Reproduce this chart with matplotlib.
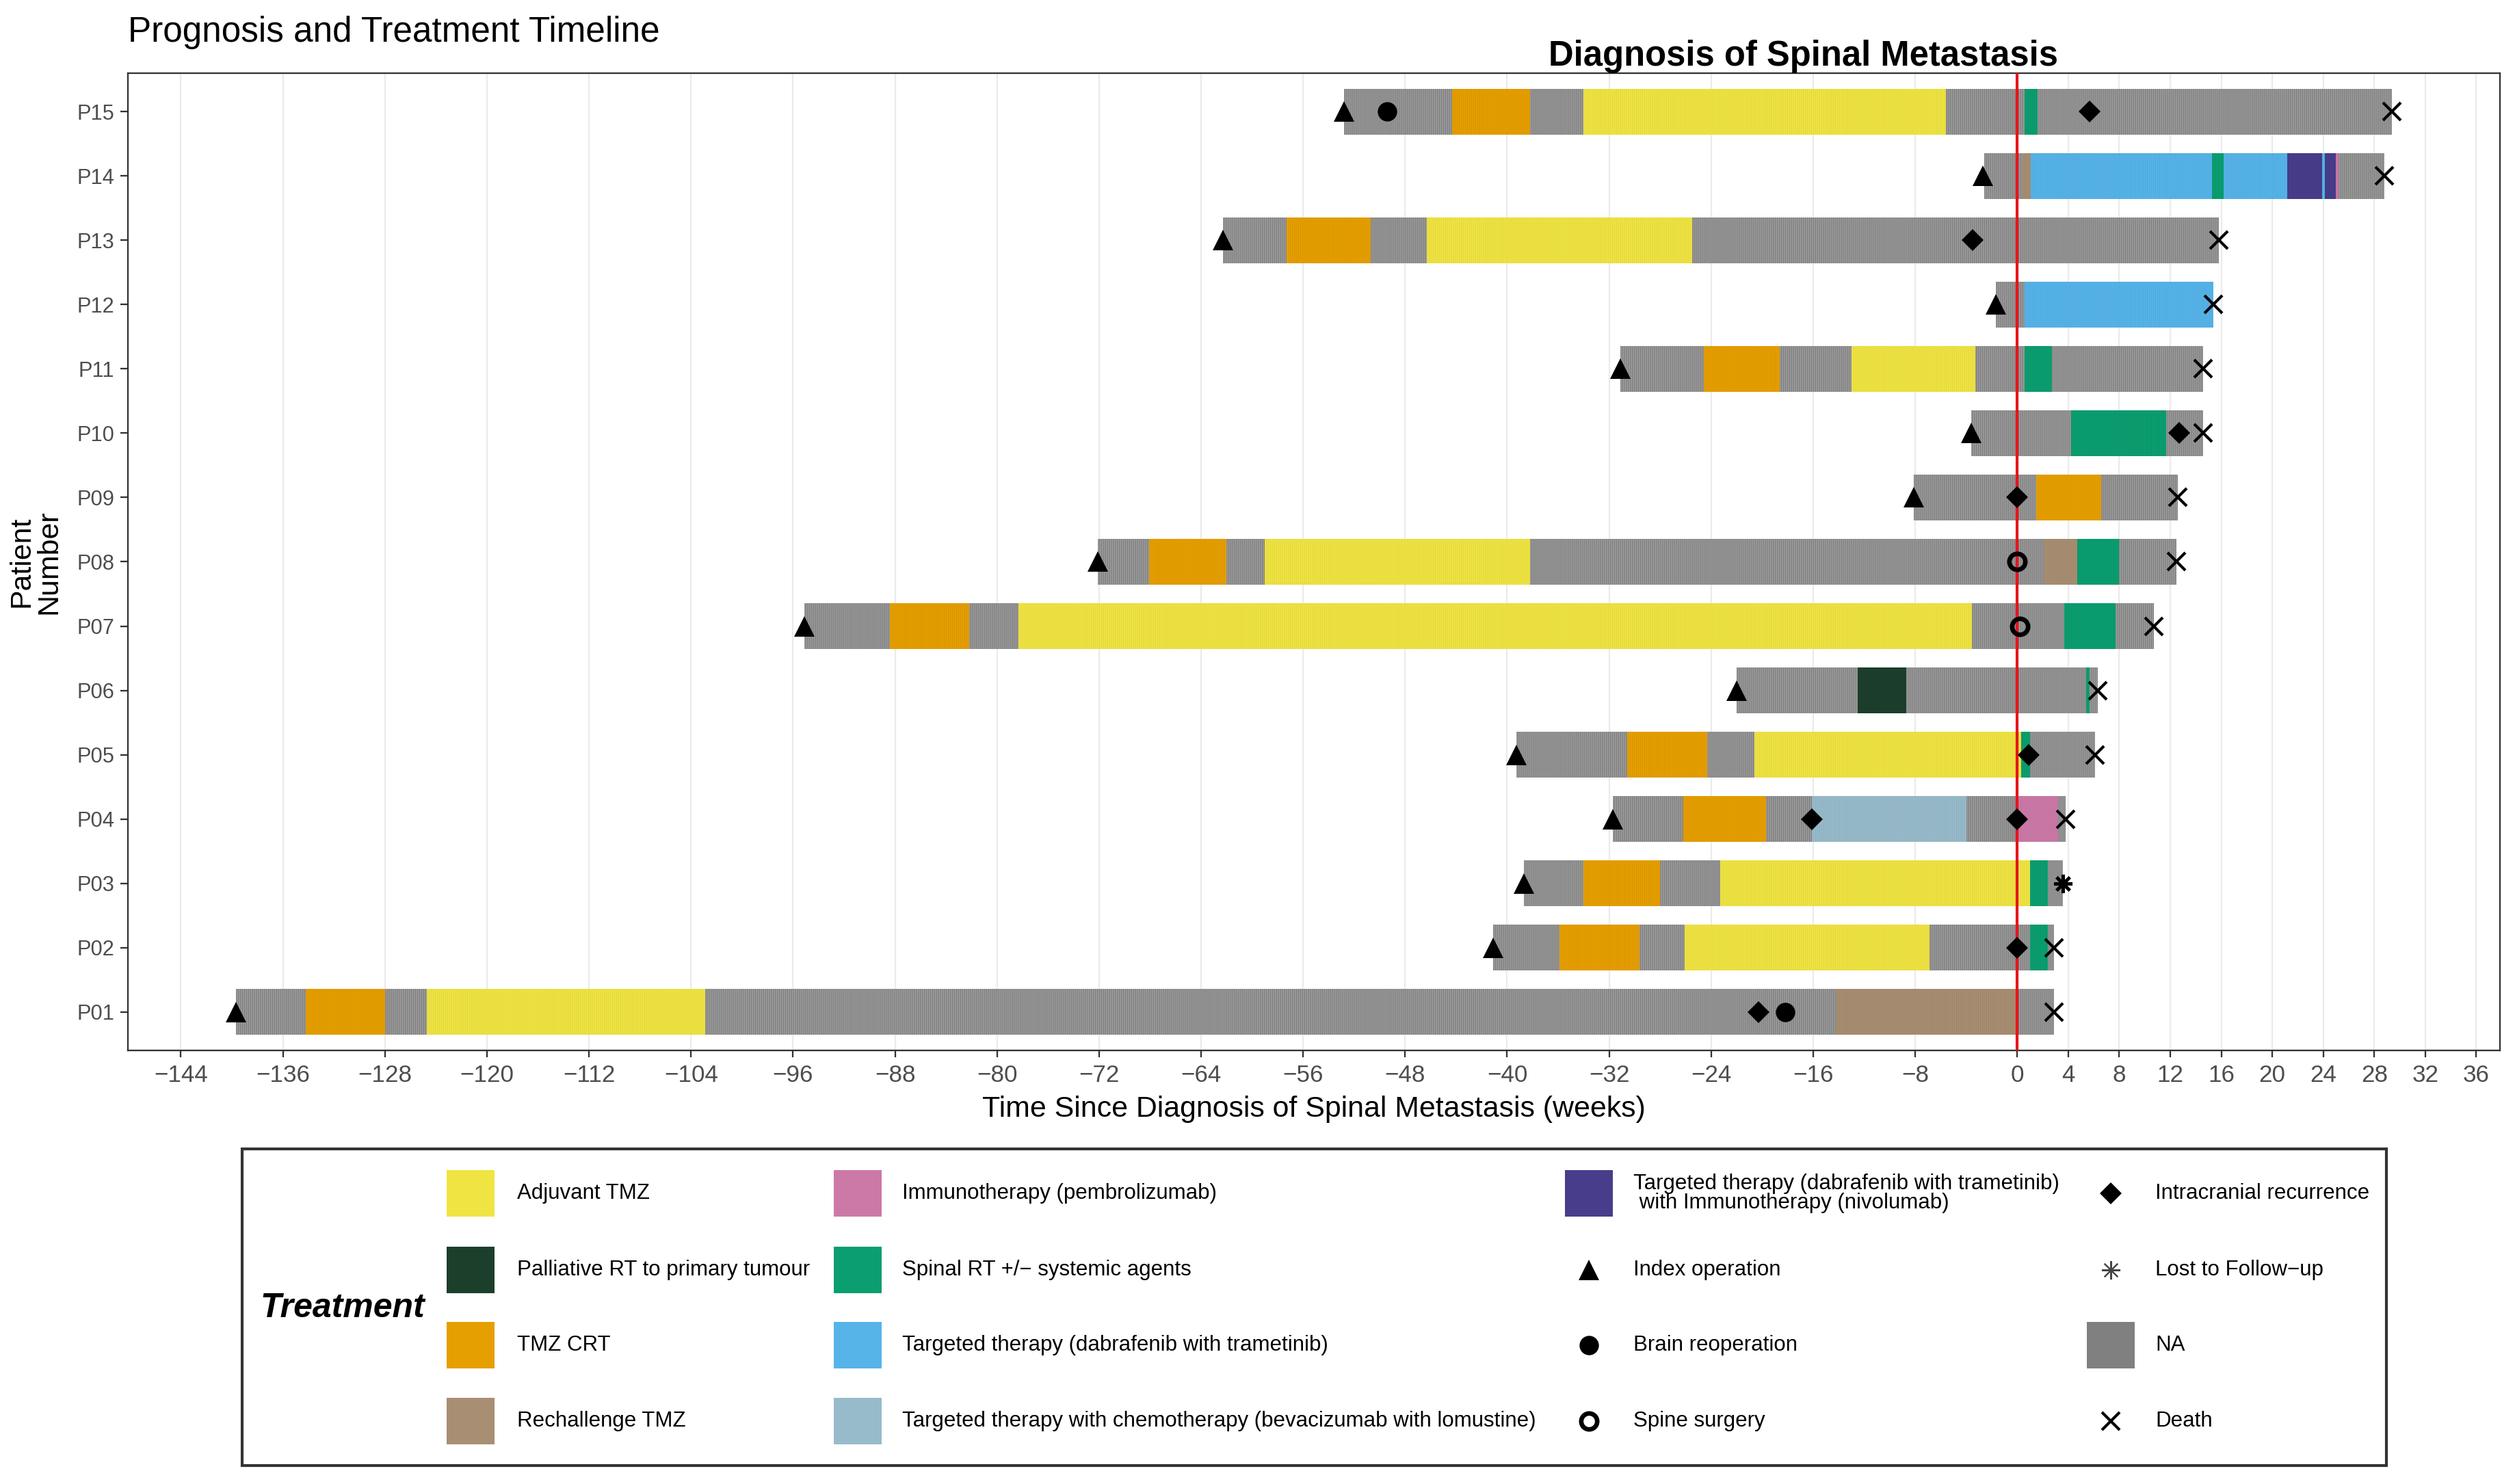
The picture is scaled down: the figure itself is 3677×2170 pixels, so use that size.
import matplotlib
matplotlib.use('Agg')
import matplotlib.pyplot as plt
import matplotlib.colors as mcolors
from matplotlib.patches import Rectangle
import numpy as np

plt.rcParams['font.family'] = ['Liberation Sans', 'DejaVu Sans']
plt.rcParams['hatch.linewidth'] = 0.3
plt.rcParams['axes.unicode_minus'] = True

W, H, DPI = 3677, 2170, 300

# ---- data (weeks since diagnosis of spinal metastasis) ----
patients = ['P01', 'P02', 'P03', 'P04', 'P05', 'P06', 'P07', 'P08',
            'P09', 'P10', 'P11', 'P12', 'P13', 'P14', 'P15']

treat_codes = ['ADJ', 'PAL', 'CRT', 'RCH', 'IMM', 'SRT', 'TT', 'TTC', 'TTI', 'NA']
treat_labels = ['Adjuvant TMZ', 'Palliative RT to primary tumour', 'TMZ CRT', 'Rechallenge TMZ',
                'Immunotherapy (pembrolizumab)', 'Spinal RT +/\u2212 systemic agents',
                'Targeted therapy (dabrafenib with trametinib)',
                'Targeted therapy with chemotherapy (bevacizumab with lomustine)',
                'Targeted therapy (dabrafenib with trametinib)\n with Immunotherapy (nivolumab)',
                'NA']
treat_colors = ['#F0E442', '#1C3F2C', '#E69F00', '#A88E72', '#CC79A7', '#0A9E70',
                '#56B4E9', '#98BBCB', '#483D8B', '#808080']

segment_bounds = {
    'P01': [-139.7, -134.2, -128.0, -124.7, -102.9, -14.2, 0.0, 2.9],
    'P02': [-41.1, -35.9, -29.6, -26.1, -6.9, 1.0, 2.4, 2.9],
    'P03': [-38.7, -34.0, -28.0, -23.3, 1.0, 2.4, 3.6],
    'P04': [-31.7, -26.2, -19.7, -16.1, -4.0, 0.0, 3.2, 3.8],
    'P05': [-39.3, -30.6, -24.3, -20.6, 0.3, 1.0, 6.1],
    'P06': [-22.0, -12.5, -8.7, 5.4, 5.7, 6.3],
    'P07': [-95.1, -88.4, -82.2, -78.3, -3.55, 3.7, 7.7, 10.7],
    'P08': [-72.1, -68.1, -62.0, -59.0, -38.2, 2.1, 4.7, 8.0, 12.5],
    'P09': [-8.1, 1.5, 6.6, 12.6],
    'P10': [-3.6, 4.2, 11.7, 14.6],
    'P11': [-31.1, -24.6, -18.6, -13.0, -3.3, 0.6, 2.7, 14.6],
    'P12': [-1.7, 0.6, 15.4],
    'P13': [-62.3, -57.3, -50.7, -46.3, -25.5, 15.8],
    'P14': [-2.6, 0.4, 1.05, 15.3, 16.2, 21.2, 23.9, 24.1, 25.0, 25.2, 28.8],
    'P15': [-52.8, -44.3, -38.2, -34.0, -5.6, 0.6, 1.6, 29.4],
}
segment_fill = {
    'P01': ['NA', 'CRT', 'NA', 'ADJ', 'NA', 'RCH', 'NA'],
    'P02': ['NA', 'CRT', 'NA', 'ADJ', 'NA', 'SRT', 'NA'],
    'P03': ['NA', 'CRT', 'NA', 'ADJ', 'SRT', 'NA'],
    'P04': ['NA', 'CRT', 'NA', 'TTC', 'NA', 'IMM', 'NA'],
    'P05': ['NA', 'CRT', 'NA', 'ADJ', 'SRT', 'NA'],
    'P06': ['NA', 'PAL', 'NA', 'SRT', 'NA'],
    'P07': ['NA', 'CRT', 'NA', 'ADJ', 'NA', 'SRT', 'NA'],
    'P08': ['NA', 'CRT', 'NA', 'ADJ', 'NA', 'RCH', 'SRT', 'NA'],
    'P09': ['NA', 'CRT', 'NA'],
    'P10': ['NA', 'SRT', 'NA'],
    'P11': ['NA', 'CRT', 'NA', 'ADJ', 'NA', 'SRT', 'NA'],
    'P12': ['NA', 'TT'],
    'P13': ['NA', 'CRT', 'NA', 'ADJ', 'NA'],
    'P14': ['NA', 'RCH', 'TT', 'SRT', 'TT', 'TTI', 'TT', 'TTI', 'IMM', 'NA'],
    'P15': ['NA', 'CRT', 'NA', 'ADJ', 'NA', 'SRT', 'NA'],
}

index_op_week = [-139.7, -41.1, -38.7, -31.7, -39.3, -22.0, -95.1, -72.1,
                 -8.1, -3.6, -31.1, -1.7, -62.3, -2.7, -52.8]
recur_patient = ['P01', 'P02', 'P04', 'P04', 'P05', 'P09', 'P10', 'P13', 'P15']
recur_week = [-20.3, 0.0, -16.1, 0.0, 0.9, 0.0, 12.7, -3.5, 5.7]
reop_patient = ['P01', 'P15']
reop_week = [-18.2, -49.4]
spine_patient = ['P07', 'P08']
spine_week = [0.2, 0.0]
death_patient = ['P01', 'P02', 'P04', 'P05', 'P06', 'P07', 'P08', 'P09',
                 'P10', 'P11', 'P12', 'P13', 'P14', 'P15']
death_week = [2.9, 2.9, 3.8, 6.1, 6.3, 10.7, 12.5, 12.6, 14.6, 14.6, 15.4, 15.8, 28.8, 29.4]
lost_patient = ['P03']
lost_week = [3.6]

x_breaks = list(range(-144, 0, 8)) + list(range(0, 37, 4))

# ---- marker styles ----
ASTERISK = (8, 2, 0)
mk_index = dict(marker='^', ms=7.4, color='black', mew=0)
mk_reop = dict(marker='o', ms=6.8, color='black', mew=0)
mk_spine = dict(marker='o', ms=5.6, mfc='none', mec='black', mew=1.6)
mk_recur = dict(marker='D', ms=5.5, color='black', mew=0)
mk_death = dict(marker='x', ms=6.2, color='black', mew=1.0)
mk_lost = dict(marker=ASTERISK, ms=6.5, color='black', mew=1.1)


def darker(c, f):
    r, g, b = mcolors.to_rgb(c)
    return (r * f, g * f, b * f)


fig = plt.figure(figsize=(W / DPI, H / DPI), dpi=DPI)
ax = fig.add_axes([187 / W, 1 - 1536 / H, (3655 - 187) / W, (1536 - 107) / H])

ypos = {p: i + 1 for i, p in enumerate(patients)}
color_of = dict(zip(treat_codes, treat_colors))

for p in patients:
    b = np.array(segment_bounds[p])
    for k, code in enumerate(segment_fill[p]):
        if code == 'NA':
            face, stripe = '#9c9c9c', '#7e7e7e'
        else:
            face, stripe = color_of[code], darker(color_of[code], 0.95)
        ax.barh(ypos[p], b[k + 1] - b[k], left=b[k], height=0.71, color=face,
                edgecolor=stripe, linewidth=0, hatch='|' * 17, zorder=2)

ax.axvline(0, color='#E8141B', lw=1.0, zorder=3)


def put(pats, weeks, style):
    ax.plot(weeks, [ypos[p] for p in pats], ls='none', zorder=4, clip_on=False, **style)


put(patients, index_op_week, mk_index)
put(recur_patient, recur_week, mk_recur)
put(reop_patient, reop_week, mk_reop)
put(spine_patient, spine_week, mk_spine)
put(death_patient, death_week, mk_death)
put(lost_patient, lost_week, mk_lost)

# ggplot-like expansion of the data range
lo = min(min(v) for v in segment_bounds.values())
hi = max(max(v) for v in segment_bounds.values())
pad = 0.05 * (hi - lo)
ax.set_xlim(lo - pad, hi + pad)
ax.set_ylim(0.4, len(patients) + 0.6)

ax.set_xticks(x_breaks)
ax.set_xticklabels([f'{v:d}'.replace('-', '\u2212') for v in x_breaks])
ax.set_yticks([ypos[p] for p in patients])
ax.set_yticklabels(patients)
ax.grid(axis='x', color='#EBEBEB', lw=0.55, zorder=0)
ax.set_axisbelow(True)
for s in ax.spines.values():
    s.set_color('#333333')
    s.set_linewidth(0.55)
ax.tick_params(axis='x', length=2.4, width=0.55, color='#333333', labelcolor='#4D4D4D',
               labelsize=8.4, pad=2.5)
ax.tick_params(axis='y', length=2.75, width=0.55, color='#333333', labelcolor='#4D4D4D',
               labelsize=7.4, pad=2.0)

ax.set_xlabel('Time Since Diagnosis of Spinal Metastasis (weeks)', fontsize=10.3, labelpad=3)
ax.set_ylabel('Patient\nNumber', fontsize=10.3, va='center', linespacing=1.0)
ax.yaxis.set_label_coords((52 - 187) / (3655 - 187), 0.5)

ax.text(0, 1 + (107 - 47) / 1429, 'Prognosis and Treatment Timeline', transform=ax.transAxes,
        fontsize=12.3, ha='left', va='center')
ax.text(-16.8, 15.86, 'Diagnosis of Spinal Metastasis', fontsize=12.2, fontweight='bold',
        ha='center', va='center', clip_on=False, zorder=5)

# ---- legend box drawn in figure pixel coordinates ----
lax = fig.add_axes([0, 0, 1, 1])
lax.set_xlim(0, W)
lax.set_ylim(H, 0)
lax.axis('off')
lax.add_patch(Rectangle((354, 1680), 3489 - 354, 2143 - 1680, fill=False,
                        ec='#333333', lw=1.0))
lax.text(380, 1913, 'Treatment', fontsize=12, fontweight='bold', fontstyle='italic',
         ha='left', va='center')

leg_swatch_x = [688, 1254, 2323, 3086]
leg_text_x = [756, 1319, 2388, 3151]
leg_row_y = [1745, 1857, 1967, 2078]
leg_entries = [
    [('fill', 'ADJ'), ('fill', 'PAL'), ('fill', 'CRT'), ('fill', 'RCH')],
    [('fill', 'IMM'), ('fill', 'SRT'), ('fill', 'TT'), ('fill', 'TTC')],
    [('fill', 'TTI'), ('mark', 'Index operation'), ('mark', 'Brain reoperation'),
     ('mark', 'Spine surgery')],
    [('mark', 'Intracranial recurrence'), ('mark', 'Lost to Follow\u2212up'),
     ('fill', 'NA'), ('mark', 'Death')],
]
leg_marks = {'Index operation': mk_index, 'Brain reoperation': mk_reop,
             'Spine surgery': mk_spine, 'Intracranial recurrence': mk_recur,
             'Lost to Follow\u2212up': dict(mk_lost, mew=0.5, color='#444444'),
             'Death': mk_death}
label_of = dict(zip(treat_codes, treat_labels))

for ci, col in enumerate(leg_entries):
    for ri, (kind, key) in enumerate(col):
        xc, yc = leg_swatch_x[ci], leg_row_y[ri]
        if kind == 'fill':
            lax.add_patch(Rectangle((xc - 35, yc - 34), 70, 68, color=color_of[key], lw=0))
            text = label_of[key]
        else:
            lax.plot([xc], [yc], ls='none', **leg_marks[key])
            text = key
        lax.text(leg_text_x[ci], yc, text, fontsize=7.5, ha='left', va='center',
                 linespacing=0.95)

fig.savefig('out.png', dpi=DPI)
